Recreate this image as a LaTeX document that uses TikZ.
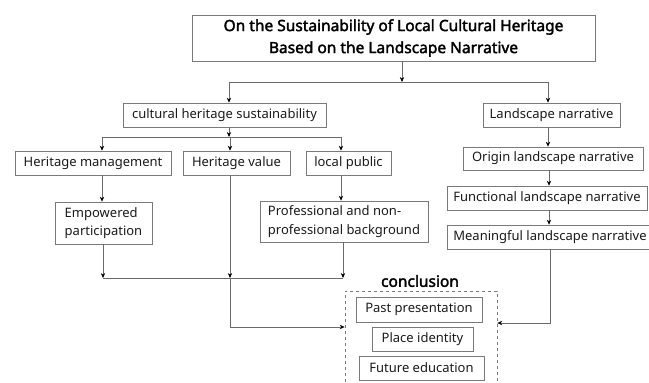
\documentclass[tikz,border=0pt]{standalone}
\usepackage{fontspec}
\setmainfont{Noto Sans}
\newfontfamily\boldf{Noto Sans}[FakeBold=2.2]
\usetikzlibrary{arrows.meta}
\definecolor{linec}{HTML}{6A6A6A}
\definecolor{boxc}{HTML}{7A7A7A}
\definecolor{txt}{HTML}{1A1A1A}
\begin{document}
\begin{tikzpicture}[x=1pt,y=-1pt,
  box/.style={draw=boxc, line width=0.7pt, rectangle, inner sep=0pt, text=txt,
     font=\fontsize{13}{18.5}\selectfont, anchor=center},
  conn/.style={draw=linec, line width=0.7pt},
  arr/.style={conn, -{Stealth[length=5pt,width=4.4pt,color=black]}},
  ]
\useasboundingbox (0,0) rectangle (649,383);
% boxes
\node[box, minimum width=403pt, minimum height=46pt, align=center,
      font=\fontsize{15.5}{22}\boldf, text=black] (title) at (393.5,38)
      {On the Sustainability of Local Cultural Heritage\\Based on the Landscape Narrative};
\node[box, minimum width=203pt, minimum height=24pt] (chs) at (224.5,115) {cultural heritage sustainability};
\node[box, minimum width=137pt, minimum height=24pt] (ln) at (551.5,115) {Landscape narrative};
\node[box, minimum width=156pt, minimum height=24pt] (hm) at (93,163) {Heritage management};
\node[box, minimum width=107pt, minimum height=24pt] (hv) at (236.5,163) {Heritage value};
\node[box, minimum width=85pt, minimum height=24pt] (lp) at (348.5,163) {local public};
\node[box, minimum width=180pt, minimum height=23pt] (orig) at (553,158.5) {Origin landscape narrative};
\node[box, minimum width=200pt, minimum height=24pt] (func) at (547,198) {Functional landscape narrative};
\node[box, minimum width=206pt, minimum height=24pt] (mean) at (550,237) {Meaningful landscape narrative};
\node[box, minimum width=97pt, minimum height=42pt, align=left] (emp) at (103.5,223) {Empowered\\participation};
\node[box, minimum width=168pt, minimum height=41pt, align=left] (prof) at (344,221.5) {Professional and non-\\professional background};
% conclusion
\node[font=\fontsize{15.5}{18}\boldf, text=black] (conl) at (420,281) {conclusion};
\node[draw=boxc, dashed, line width=0.7pt, minimum width=152pt, minimum height=100pt, inner sep=0pt] (dash) at (421,341) {};
\node[box, minimum width=126pt, minimum height=25pt] (past) at (419,309.5) {Past presentation};
\node[box, minimum width=101pt, minimum height=24pt] (place) at (422.5,339) {Place identity};
\node[box, minimum width=125pt, minimum height=24pt] (fut) at (421.5,368) {Future education};
% junction coordinates
\coordinate (j0) at (402,82);
\coordinate (jl) at (229,82);
\coordinate (jr) at (548,82);
\coordinate (k0) at (229,137);
\coordinate (kl) at (102,137);
\coordinate (km) at (230,137);
\coordinate (kr) at (341,137);
\coordinate (ml) at (103,278);
\coordinate (mm) at (230,278);
\coordinate (mr) at (343,278);
\coordinate (hvb) at (230,327);
\coordinate (rb) at (550,323);
\coordinate (rx) at (549,0);
% connectors
\draw[arr] (title.south -| j0) -- (j0);
\draw[conn] (jl) -- (jr);
\draw[arr] (jl) -- (chs.north -| jl);
\draw[arr] (jr) -- (ln.north -| jr);
\draw[arr] (chs.south -| k0) -- (k0);
\draw[conn] (kl) -- (kr);
\draw[arr] (kl) -- (hm.north -| kl);
\draw[arr] (km) -- (hv.north -| km);
\draw[arr] (kr) -- (lp.north -| kr);
\draw[arr] (hm.south -| kl) -- (emp.north -| kl);
\draw[arr] (lp.south -| kr) -- (prof.north -| kr);
\draw[arr] (emp.south -| ml) -- (ml);
\draw[arr] (prof.south -| mr) -- (mr);
\draw[conn] (ml) -- (mr);
\draw[arr] (hv.south -| mm) -- (mm);
\draw[arr] (mm) -- (hvb) -- (dash.west |- hvb);
\draw[arr] (ln.south -| jr) -- (orig.north -| jr);
\draw[arr] (orig.south -| rx) -- (func.north -| rx);
\draw[arr] (func.south -| rx) -- (mean.north -| rx);
\draw[arr] (mean.south -| rb) -- (rb) -- (dash.east |- rb);
\end{tikzpicture}
\end{document}
